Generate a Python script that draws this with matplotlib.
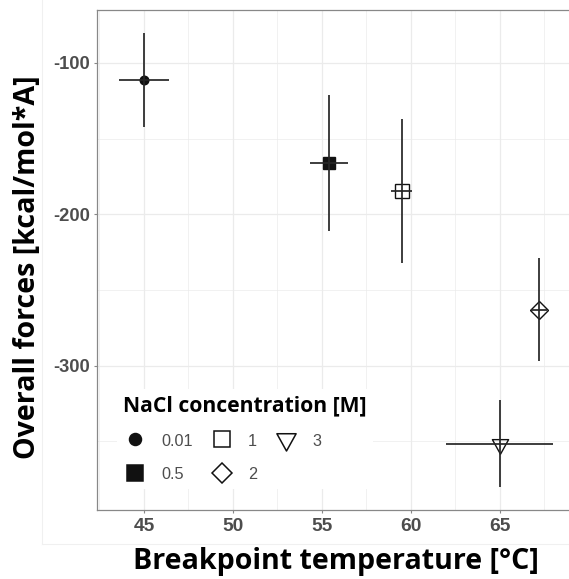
import numpy as np
import matplotlib
matplotlib.use("Agg")
import matplotlib.pyplot as plt
from matplotlib.lines import Line2D
from matplotlib.path import Path

plt.rcParams['axes.unicode_minus'] = False

# data
conc_labels = ['0.01', '0.5', '1', '2', '3']
temp = [45.0, 55.4, 59.5, 67.2, 65.0]
temp_err = [1.4, 1.05, 0.6, 0.45, 3.0]
force = [-111.3, -166.2, -184.5, -263.0, -351.8]
force_err = [31.3, 44.8, 47.7, 34.1, 28.7]

x_ticks = [45, 50, 55, 60, 65]
y_ticks = [-300, -200, -100]

# ggplot-like shapes: 16, 15, 0, 5, 6 (triangle centred on its centroid)
tri_down = Path([(-1, 0.6), (1, 0.6), (0, -1.2), (-1, 0.6)],
                [Path.MOVETO, Path.LINETO, Path.LINETO, Path.CLOSEPOLY])
shapes = ['o', 's', 's', 'D', tri_down]
filled = [True, True, False, False, False]
point_ms = [6.2, 9.0, 9.4, 9.2, 14.0]
key_ms = [8.6, 12.0, 11.6, 10.1, 16.6]

INK = '#111111'
GREY_TXT = '#4d4d4d'
GRID = '#ebebeb'

W, H = 569, 579
fig = plt.figure(figsize=(W / 100, H / 100), dpi=100)
ax = fig.add_axes([97.3 / W, 69 / H, 477.3 / W, 500 / H])

for i in range(len(conc_labels)):
    ax.plot(temp[i], force[i], linestyle='none', marker=shapes[i],
            markersize=point_ms[i], markeredgewidth=1.0,
            markeredgecolor=INK,
            markerfacecolor=INK if filled[i] else 'none', zorder=3)
ax.errorbar(temp, force, xerr=temp_err, yerr=force_err, fmt='none',
            ecolor='#262626', elinewidth=1.25, capsize=0, zorder=4)

# ggplot default 5% expansion
lo = min(t - e for t, e in zip(temp, temp_err))
hi = max(t + e for t, e in zip(temp, temp_err))
ax.set_xlim(lo - 0.05 * (hi - lo), hi + 0.05 * (hi - lo))
lo = min(f - e for f, e in zip(force, force_err))
hi = max(f + e for f, e in zip(force, force_err))
ax.set_ylim(lo - 0.05 * (hi - lo), hi + 0.05 * (hi - lo))

ax.set_xticks(x_ticks)
ax.set_xticks([t + 2.5 for t in [40] + x_ticks], minor=True)
ax.set_yticks(y_ticks)
ax.set_yticks([t - 50 for t in y_ticks], minor=True)
ax.grid(True, which='major', color=GRID, linewidth=0.9)
ax.grid(True, which='minor', color=GRID, linewidth=0.5)
ax.set_axisbelow(True)

ax.tick_params(which='major', length=2.5, width=0.8, color='#888888', pad=3)
ax.tick_params(which='minor', length=0)
for lab in ax.get_xticklabels():
    lab.set(fontfamily='Liberation Sans', fontweight='bold', fontsize=13.8, color=GREY_TXT)
for lab in ax.get_yticklabels():
    lab.set(fontfamily='Liberation Sans', fontweight='bold', fontsize=13.2, color=GREY_TXT)
for s in ax.spines.values():
    s.set_color('#888888')
    s.set_linewidth(0.9)

ax.set_xlabel('Breakpoint temperature [°C]', fontfamily='Open Sans',
              fontweight='bold', fontsize=20.6, color='black')
ax.set_ylabel('Overall forces [kcal/mol*A]', fontfamily='Open Sans',
              fontweight='bold', fontsize=20.6, color='black')
ax.xaxis.set_label_coords(0.5, -0.074)
ax.yaxis.set_label_coords(-0.116, 0.485)

handles = []
for i in range(len(conc_labels)):
    handles.append(Line2D([], [], linestyle='none', marker=shapes[i],
                          markersize=key_ms[i], markeredgewidth=1.1,
                          markeredgecolor=INK,
                          markerfacecolor=INK if filled[i] else 'none'))
leg = ax.legend(handles, conc_labels, title='NaCl concentration [M]',
                ncol=3, loc='upper left',
                bbox_to_anchor=((117 - 97.3) / 477.3, (510 - 389) / 500),
                borderaxespad=0, borderpad=0.39, handlelength=1.48,
                handleheight=1.2, handletextpad=0.86, columnspacing=1.05,
                labelspacing=1.0, alignment='left', frameon=True,
                fancybox=False, facecolor='white', edgecolor='none',
                framealpha=1, prop={'family': 'Liberation Sans', 'size': 11.7},
                title_fontproperties={'family': 'Open Sans', 'weight': 'bold',
                                      'size': 15.2})
for t in leg.get_texts():
    t.set_color(GREY_TXT)

# faint outer plot-background border
fig.add_artist(Line2D([41.7 / W, 41.7 / W], [1, 35 / H], color='#f0f0f0', lw=0.8))
fig.add_artist(Line2D([41.7 / W, 1], [35 / H, 35 / H], color='#f0f0f0', lw=0.8))

fig.savefig('out.png', dpi=100)
